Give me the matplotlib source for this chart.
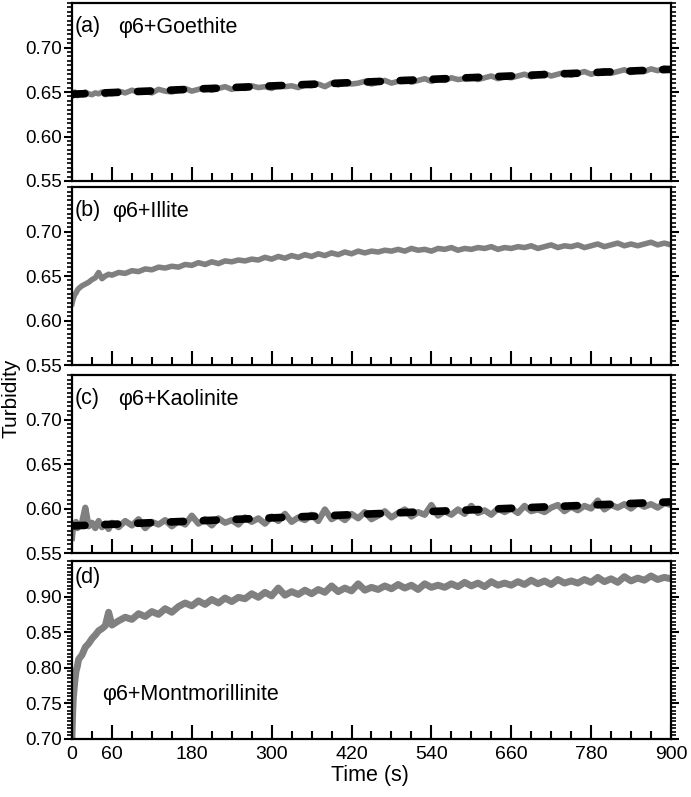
import matplotlib
matplotlib.use("Agg")
import matplotlib.pyplot as plt
from matplotlib.ticker import MultipleLocator, FixedLocator

plt.rcParams['font.family'] = ['Liberation Sans', 'DejaVu Sans']
plt.rcParams['font.size'] = 14

# sample times (s): dense at the start, then every 10 s
early_t = [0, 1, 2, 4, 6, 8, 10, 15, 20, 25, 30, 35, 40, 45, 50, 55]
time_s = early_t + list(range(60, 901, 10))

goethite = [
    0.646, 0.649, 0.647, 0.650, 0.648, 0.646, 0.649, 0.647, 0.650, 0.648, 0.647, 0.649, 0.648, 0.650, 0.647, 0.649,
    0.648, 0.651, 0.649, 0.652, 0.650, 0.651, 0.649, 0.653, 0.651, 0.650,
    0.652, 0.654, 0.651, 0.653, 0.655, 0.652, 0.654, 0.656, 0.653, 0.655,
    0.654, 0.657, 0.655, 0.656, 0.654, 0.658, 0.656, 0.657, 0.655, 0.658,
    0.657, 0.659, 0.656, 0.660, 0.658, 0.661, 0.659, 0.660, 0.662, 0.659,
    0.661, 0.663, 0.660, 0.662, 0.664, 0.661, 0.663, 0.665, 0.662, 0.664,
    0.663, 0.666, 0.664, 0.665, 0.667, 0.664, 0.666, 0.668, 0.665, 0.667,
    0.666, 0.668, 0.670, 0.667, 0.669, 0.671, 0.668, 0.670, 0.672, 0.669,
    0.671, 0.673, 0.670, 0.672, 0.674, 0.671, 0.673, 0.675, 0.672, 0.674,
    0.673, 0.676, 0.674, 0.677, 0.675,
]

illite = [
    0.619, 0.622, 0.625, 0.629, 0.631, 0.634, 0.636, 0.639, 0.641, 0.643, 0.646, 0.648, 0.654, 0.647, 0.650, 0.652,
    0.651, 0.654, 0.653, 0.656, 0.655, 0.658, 0.657, 0.660, 0.659, 0.661,
    0.660, 0.663, 0.662, 0.665, 0.663, 0.666, 0.664, 0.667, 0.666, 0.668,
    0.667, 0.669, 0.668, 0.671, 0.669, 0.672, 0.670, 0.673, 0.671, 0.674,
    0.672, 0.675, 0.673, 0.676, 0.674, 0.677, 0.675, 0.678, 0.676, 0.678,
    0.677, 0.679, 0.678, 0.680, 0.678, 0.681, 0.679, 0.680, 0.678, 0.681,
    0.680, 0.682, 0.679, 0.681, 0.680, 0.682, 0.681, 0.683, 0.680, 0.682,
    0.681, 0.683, 0.682, 0.684, 0.681, 0.683, 0.685, 0.682, 0.684, 0.683,
    0.685, 0.682, 0.684, 0.686, 0.683, 0.685, 0.687, 0.684, 0.686, 0.684,
    0.686, 0.688, 0.685, 0.687, 0.685,
]

kaolinite = [
    0.567, 0.575, 0.582, 0.579, 0.585, 0.578, 0.582, 0.584, 0.601, 0.580, 0.584, 0.578, 0.586, 0.579, 0.583, 0.577,
    0.584, 0.579, 0.586, 0.581, 0.588, 0.578, 0.585, 0.582, 0.587, 0.580,
    0.586, 0.582, 0.592, 0.583, 0.588, 0.581, 0.589, 0.584, 0.587, 0.582,
    0.590, 0.585, 0.589, 0.583, 0.591, 0.586, 0.594, 0.585, 0.590, 0.587,
    0.593, 0.586, 0.599, 0.588, 0.592, 0.587, 0.594, 0.589, 0.596, 0.588,
    0.592, 0.597, 0.590, 0.595, 0.599, 0.591, 0.596, 0.593, 0.604, 0.592,
    0.597, 0.593, 0.599, 0.594, 0.603, 0.595, 0.598, 0.593, 0.600, 0.596,
    0.600, 0.595, 0.603, 0.597, 0.599, 0.596, 0.601, 0.604, 0.597, 0.602,
    0.598, 0.603, 0.600, 0.609, 0.599, 0.604, 0.601, 0.605, 0.600, 0.606,
    0.602, 0.605, 0.601, 0.606, 0.604,
]

montmorillonite = [
    0.705, 0.738, 0.758, 0.779, 0.795, 0.802, 0.812, 0.818, 0.829, 0.834, 0.841, 0.846, 0.852, 0.855, 0.859, 0.878,
    0.860, 0.866, 0.871, 0.868, 0.876, 0.872, 0.879, 0.875, 0.883, 0.878,
    0.886, 0.891, 0.887, 0.894, 0.889, 0.896, 0.891, 0.898, 0.893, 0.899,
    0.897, 0.904, 0.899, 0.906, 0.901, 0.912, 0.902, 0.907, 0.903, 0.909,
    0.904, 0.910, 0.906, 0.915, 0.907, 0.912, 0.908, 0.918, 0.909, 0.913,
    0.910, 0.915, 0.911, 0.917, 0.912, 0.916, 0.910, 0.918, 0.913, 0.916,
    0.913, 0.918, 0.914, 0.920, 0.915, 0.919, 0.914, 0.921, 0.916, 0.919,
    0.916, 0.921, 0.917, 0.923, 0.918, 0.922, 0.917, 0.924, 0.919, 0.922,
    0.919, 0.924, 0.920, 0.927, 0.921, 0.925, 0.920, 0.928, 0.922, 0.926,
    0.923, 0.929, 0.924, 0.927, 0.925,
]

# linear fits (end points) for goethite and kaolinite
fit_t = [0, 900]
fit_goethite = [0.6475, 0.6755]
fit_kaolinite = [0.5805, 0.6075]

panels = [
    # (tag, name, data, fit, ylim, yticks, name position, trace width)
    ("(a)", "\u03c66+Goethite", goethite, fit_goethite, (0.55, 0.75), [0.55, 0.60, 0.65, 0.70], (0.077, 0.865), 4.0),
    ("(b)", "\u03c66+Illite", illite, None, (0.55, 0.75), [0.55, 0.60, 0.65, 0.70], (0.067, 0.865), 4.0),
    ("(c)", "\u03c66+Kaolinite", kaolinite, fit_kaolinite, (0.55, 0.75), [0.55, 0.60, 0.65, 0.70], (0.077, 0.865), 4.5),
    ("(d)", "\u03c66+Montmorillinite", montmorillonite, None, (0.70, 0.95), [0.70, 0.75, 0.80, 0.85, 0.90], (0.05, 0.25), 5.0),
]

xticks = [0, 60, 180, 300, 420, 540, 660, 780, 900]

fig = plt.figure(figsize=(6.91, 7.97), dpi=100)
left, width, height = 0.1042, 0.8668, 0.2233
bottoms = [0.7729, 0.5420, 0.3061, 0.0728]

for i, (tag, name, data, fit, ylim, yticks, npos, lw) in enumerate(panels):
    ax = fig.add_axes([left, bottoms[i], width, height])
    ax.plot(time_s, data, color='#808080', linewidth=lw, solid_joinstyle='round')
    if fit is not None:
        ax.plot(fit_t, fit, color='black', linewidth=5.5, linestyle=(0, (1.7, 2.6)),
                dash_capstyle='round')
    ax.set_xlim(0, 900)
    ax.set_ylim(*ylim)

    ax.xaxis.set_major_locator(FixedLocator(xticks))
    ax.xaxis.set_minor_locator(MultipleLocator(30))
    ax.yaxis.set_major_locator(FixedLocator(yticks))
    ax.yaxis.set_minor_locator(MultipleLocator(0.005))
    ax.yaxis.set_major_formatter(plt.FuncFormatter(lambda v, p: f"{v:.2f}"))

    ax.tick_params(axis='x', which='major', direction='in', length=10, width=1.5,
                   bottom=True, top=False)
    ax.tick_params(axis='x', which='minor', direction='in', length=5.8, width=1.5,
                   bottom=True, top=False)
    ax.tick_params(axis='y', which='major', direction='out', length=6, width=1.5,
                   left=True, right=True, labelsize=13.5, pad=1.5)
    ax.tick_params(axis='y', which='minor', direction='out', length=3.3, width=1.2,
                   left=True, right=True)
    if i < 3:
        ax.tick_params(axis='x', labelbottom=False)
    else:
        ax.tick_params(axis='x', labelsize=14, pad=5)

    for s in ax.spines.values():
        s.set_linewidth(1.6)

    ax.text(0.005, 0.87 if i < 3 else 0.91, tag, transform=ax.transAxes,
            ha='left', va='center', fontsize=15.5)
    ax.text(npos[0], npos[1], name, transform=ax.transAxes,
            ha='left', va='center', fontsize=15.5)

fig.text(0.016, 0.5, "Turbidity", rotation=90, ha='center', va='center', fontsize=15)
fig.text(0.535, 0.027, "Time (s)", ha='center', va='center', fontsize=15.5)

plt.savefig("out.png", dpi=100)
plt.close()
